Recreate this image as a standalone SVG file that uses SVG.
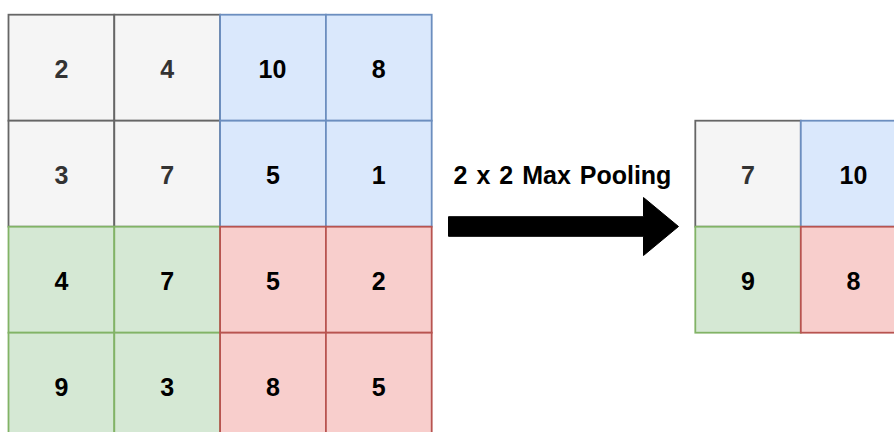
<svg xmlns="http://www.w3.org/2000/svg" width="894" height="432" viewBox="0 0 894 432">
<style>
rect{stroke-width:1.8}
.g{fill:#f5f5f5;stroke:#666666}
.b{fill:#dae8fc;stroke:#6c8ebf}
.gr{fill:#d5e8d4;stroke:#82b366}
.r{fill:#f8cecc;stroke:#b85450}
text{font-family:"Liberation Sans",Arial,Helvetica,sans-serif;font-weight:bold;font-size:25px;text-anchor:middle;fill:#000}
.gt{fill:#333333}
.title{font-size:25px;word-spacing:2px}
</style>
<rect width="894" height="432" fill="#ffffff"/>
<g id="c00"><rect class="g" x="8.5" y="14.7" width="105.8" height="106"/><text class="gt" x="61.4" y="78.3">2</text></g>
<g id="c01"><rect class="g" x="114.3" y="14.7" width="105.8" height="106"/><text class="gt" x="167.2" y="78.3">4</text></g>
<g id="c10"><rect class="g" x="8.5" y="120.7" width="105.8" height="106"/><text class="gt" x="61.4" y="184.3">3</text></g>
<g id="c11"><rect class="g" x="114.3" y="120.7" width="105.8" height="106"/><text class="gt" x="167.2" y="184.3">7</text></g>
<g id="c02"><rect class="b" x="220.1" y="14.7" width="105.8" height="106"/><text x="272.5" y="78.3">10</text></g>
<g id="c03"><rect class="b" x="325.9" y="14.7" width="105.8" height="106"/><text x="378.8" y="78.3">8</text></g>
<g id="c12"><rect class="b" x="220.1" y="120.7" width="105.8" height="106"/><text x="273" y="184.3">5</text></g>
<g id="c13"><rect class="b" x="325.9" y="120.7" width="105.8" height="106"/><text x="378.8" y="184.3">1</text></g>
<g id="c20"><rect class="gr" x="8.5" y="226.7" width="105.8" height="106"/><text x="61.4" y="290.3">4</text></g>
<g id="c21"><rect class="gr" x="114.3" y="226.7" width="105.8" height="106"/><text x="167.2" y="290.3">7</text></g>
<g id="c30"><rect class="gr" x="8.5" y="332.7" width="105.8" height="106"/><text x="61.4" y="396.3">9</text></g>
<g id="c31"><rect class="gr" x="114.3" y="332.7" width="105.8" height="106"/><text x="167.2" y="396.3">3</text></g>
<g id="c22"><rect class="r" x="220.1" y="226.7" width="105.8" height="106"/><text x="273" y="290.3">5</text></g>
<g id="c23"><rect class="r" x="325.9" y="226.7" width="105.8" height="106"/><text x="378.8" y="290.3">2</text></g>
<g id="c32"><rect class="r" x="220.1" y="332.7" width="105.8" height="106"/><text x="273" y="396.3">8</text></g>
<g id="c33"><rect class="r" x="325.9" y="332.7" width="105.8" height="106"/><text x="378.8" y="396.3">5</text></g>
<g id="o00"><rect class="g" x="695.3" y="120.7" width="105.5" height="106"/><text class="gt" x="748" y="184.3">7</text></g>
<g id="o01"><rect class="b" x="800.8" y="120.7" width="105.5" height="106"/><text x="853.5" y="184.3">10</text></g>
<g id="o10"><rect class="gr" x="695.3" y="226.7" width="105.5" height="106"/><text x="748" y="290.3">9</text></g>
<g id="o11"><rect class="r" x="800.8" y="226.7" width="105.5" height="106"/><text x="853.5" y="290.3">8</text></g>
<g id="label"><text class="title" x="562.5" y="184">2 x 2 Max Pooling</text></g>
<g id="connectors"><polygon points="448.5,216.7 643.5,216.7 643.5,197.5 678.5,226.5 643.5,255.5 643.5,236.3 448.5,236.3" fill="#000000" stroke="#000000" stroke-width="1"/></g>
</svg>
